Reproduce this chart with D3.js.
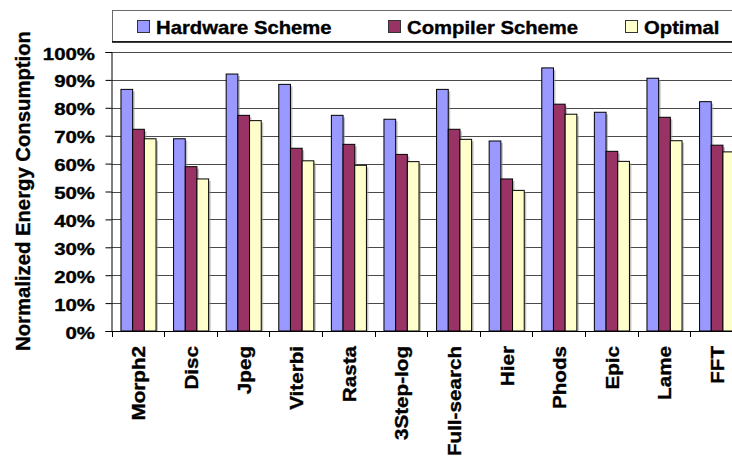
<!DOCTYPE html>
<html>
<head>
<meta charset="utf-8">
<script src="https://cdn.jsdelivr.net/npm/d3@7"></script>
<style>
  html, body { margin: 0; padding: 0; background: #fff; }
  svg { display: block; }
  text { font-family: "Liberation Sans", Arial, Helvetica, sans-serif; font-weight: bold; fill: #000;
         stroke: #000; stroke-width: 0.35px; }
</style>
</head>
<body>
<svg id="chart" width="732" height="460"></svg>
<script>
// Benchmarks on the category axis
const categories = ["Morph2", "Disc", "Jpeg", "Viterbi", "Rasta", "3Step-log",
                    "Full-search", "Hier", "Phods", "Epic", "Lame", "FFT"];

// Normalized energy consumption (%) per scheme
const hardwareScheme = [86.6, 68.9, 92.1, 88.4, 77.3, 75.9, 86.6, 68.1, 94.3, 78.4, 90.6, 82.2];
const compilerScheme = [72.3, 58.9, 77.3, 65.5, 66.9, 63.3, 72.3, 54.5, 81.3, 64.4, 76.6, 66.6];
const optimal        = [68.9, 54.5, 75.4, 61.0, 59.4, 60.7, 68.7, 50.4, 77.7, 60.8, 68.2, 64.2];

const seriesNames  = ["Hardware Scheme", "Compiler Scheme", "Optimal"];
const seriesColors = ["#9999FF", "#993366", "#FFFFCC"];
const seriesValues = [hardwareScheme, compilerScheme, optimal];

const yTicks = [0, 10, 20, 30, 40, 50, 60, 70, 80, 90, 100];

const svg = d3.select("#chart");

// Plot frame
const plotLeft = 111.5, plotBottom = 331, plotTop = 52;
const step = 52.6;
const plotRight = plotLeft + step * categories.length;

const x0 = d3.scaleBand().domain(categories).range([plotLeft, plotRight]).padding(0);
const x1 = d3.scaleBand().domain(seriesNames).range([0, x0.bandwidth()])
  .paddingInner(0).paddingOuter(0.75);
const y = d3.scaleLinear().domain([0, 100]).range([plotBottom, plotTop]);

// Gridlines
svg.append("g").selectAll("line").data(yTicks.filter(d => d > 0)).join("line")
  .attr("x1", plotLeft).attr("x2", plotRight)
  .attr("y1", d => Math.round(y(d)) + 0.5).attr("y2", d => Math.round(y(d)) + 0.5)
  .attr("stroke", "#4a4a4a").attr("stroke-width", 1);

// Bars (flattened rows)
const rows = [];
categories.forEach((c, i) => {
  seriesNames.forEach((s, j) => rows.push({ c, s, j, v: seriesValues[j][i] }));
});

// soft drop shadows behind bars
svg.append("g").selectAll("rect").data(rows).join("rect")
  .attr("x", d => x0(d.c) + x1(d.s) + 0.7 + 2)
  .attr("y", d => y(d.v) + 2)
  .attr("width", x1.bandwidth())
  .attr("height", d => plotBottom - y(d.v) - 2)
  .attr("fill", "#9a9a9a").attr("opacity", 0.6);

svg.append("g").selectAll("rect").data(rows).join("rect")
  .attr("x", d => x0(d.c) + x1(d.s) + 0.7)
  .attr("y", d => y(d.v))
  .attr("width", x1.bandwidth())
  .attr("height", d => plotBottom - y(d.v))
  .attr("fill", d => seriesColors[d.j])
  .attr("stroke", "#000").attr("stroke-width", 1);

// Y axis
const yAxis = svg.append("g").attr("transform", `translate(${plotLeft},0)`)
  .call(d3.axisLeft(y).tickValues(yTicks).tickSize(6).tickFormat(d => d + "%"));
yAxis.select(".domain").attr("stroke", "#000");
yAxis.selectAll(".tick line").attr("stroke", "#000");
yAxis.selectAll(".tick text")
  .attr("x", null).attr("dy", null)
  .style("font-size", "17px")
  .attr("text-anchor", "end")
  .attr("transform", "translate(-16.5,7) scale(1.2,1)");

// X axis with ticks on category boundaries
const xAxisG = svg.append("g");
xAxisG.append("line").attr("x1", plotLeft).attr("x2", plotRight)
  .attr("y1", plotBottom + 0.5).attr("y2", plotBottom + 0.5).attr("stroke", "#000");
xAxisG.selectAll("line.tk").data(d3.range(categories.length + 1)).join("line")
  .attr("class", "tk")
  .attr("x1", i => Math.round(plotLeft + i * step) + 0.5).attr("x2", i => Math.round(plotLeft + i * step) + 0.5)
  .attr("y1", plotBottom).attr("y2", plotBottom + 6).attr("stroke", "#000");
xAxisG.selectAll("text").data(categories).join("text")
  .attr("transform", d => `translate(${x0(d) + x0.bandwidth() / 2 + 7.5},346) rotate(-90) scale(1.18,1)`)
  .attr("text-anchor", "end")
  .style("font-size", "17.5px")
  .text(d => d);

// Y axis title
svg.append("text")
  .attr("transform", `translate(30,191) rotate(-90)`)
  .attr("text-anchor", "middle")
  .style("font-size", "20.3px")
  .text("Normalized Energy Consumption");

// Legend
const lg = svg.append("g");
lg.append("rect").attr("x", 112.5).attr("y", 10.5).attr("width", 640).attr("height", 31)
  .attr("fill", "#fff").attr("stroke", "#6a6a6a");
lg.append("line").attr("x1", 112).attr("x2", 732).attr("y1", 42).attr("y2", 42)
  .attr("stroke", "#000").attr("stroke-width", 1.5);
const legendX = [137, 388, 625];
seriesNames.forEach((s, j) => {
  lg.append("rect").attr("x", legendX[j] + 0.5).attr("y", 20.5).attr("width", 12).attr("height", 12)
    .attr("fill", seriesColors[j]).attr("stroke", "#333");
  lg.append("text")
    .attr("transform", `translate(${legendX[j] + 19},34) scale(1.09,1)`)
    .style("font-size", "18.6px")
    .text(s);
});
</script>
</body>
</html>
